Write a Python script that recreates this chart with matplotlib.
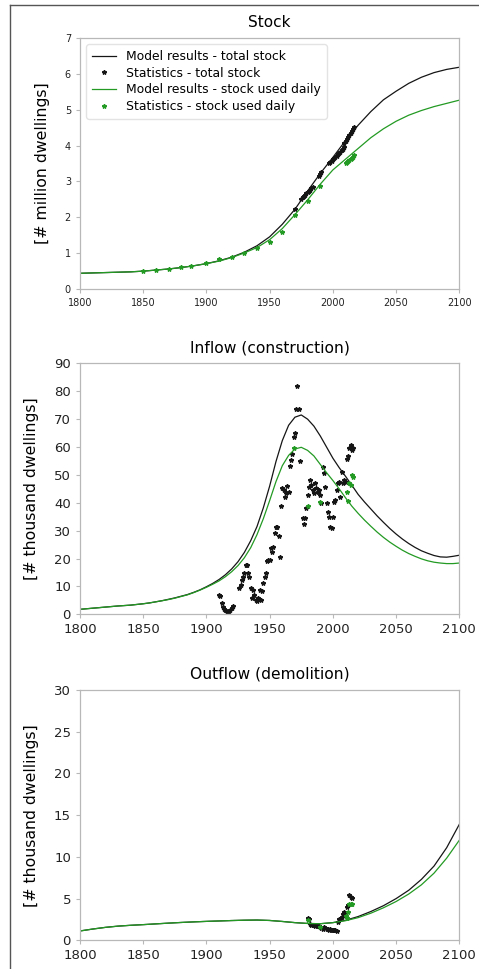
import matplotlib
matplotlib.use("Agg")
import matplotlib.pyplot as plt
from matplotlib.lines import Line2D

# ---------------- data ----------------
# Model curves (stock, million dwellings) every 10 years
years_stock = list(range(1800, 2101, 10))
stock_total_model = [0.43, 0.44, 0.45, 0.46, 0.47, 0.49, 0.52, 0.55, 0.59, 0.64,
                     0.70, 0.78, 0.88, 1.02, 1.20, 1.45, 1.80, 2.22, 2.73, 3.22,
                     3.67, 4.14, 4.57, 4.95, 5.28, 5.52, 5.74, 5.91, 6.04, 6.13, 6.19]
stock_daily_model = [0.43, 0.44, 0.45, 0.46, 0.47, 0.49, 0.52, 0.55, 0.59, 0.64,
                     0.70, 0.77, 0.87, 1.00, 1.15, 1.37, 1.68, 2.07, 2.48, 2.92,
                     3.32, 3.62, 3.92, 4.22, 4.47, 4.68, 4.85, 4.98, 5.09, 5.18, 5.27]

# Statistics - stock
stock_total_years = [1970, 1975, 1976, 1977, 1978, 1979, 1980, 1981, 1982, 1983, 1984,
                     1989, 1990, 1991,
                     1997, 1998, 1999, 2000, 2001, 2002, 2003, 2004, 2005, 2006, 2007, 2008, 2009,
                     2009, 2010, 2011, 2012, 2013, 2014, 2015, 2016, 2017]
stock_total_stats = [2.22, 2.52, 2.56, 2.60, 2.63, 2.67, 2.70, 2.74, 2.77, 2.81, 2.85,
                     3.15, 3.20, 3.26,
                     3.52, 3.55, 3.58, 3.62, 3.65, 3.69, 3.72, 3.76, 3.79, 3.83, 3.87, 3.91, 3.95,
                     4.08, 4.14, 4.19, 4.25, 4.30, 4.36, 4.41, 4.46, 4.51]
stock_daily_years = [1850, 1860, 1870, 1880, 1888, 1900, 1910, 1920, 1930, 1940, 1950,
                     1960, 1970, 1980, 1990,
                     2010, 2011, 2012, 2013, 2014, 2015, 2016, 2017]
stock_daily_stats = [0.49, 0.53, 0.56, 0.61, 0.64, 0.73, 0.83, 0.88, 1.01, 1.14, 1.31,
                     1.59, 2.06, 2.45, 2.88,
                     3.50, 3.53, 3.56, 3.59, 3.62, 3.65, 3.69, 3.73]

# Model curves (inflow, thousand dwellings) every 5 years
years_flow5 = list(range(1800, 2101, 5))
inflow_total_model = [1.8, 2.0, 2.2, 2.4, 2.6, 2.8, 3.0, 3.15, 3.3, 3.55,
                      3.8, 4.1, 4.5, 4.9, 5.4, 5.9, 6.5, 7.1, 7.9, 8.8,
                      9.9, 11.1, 12.5, 14.2, 16.3, 18.9, 22.2, 26.4, 31.5, 38.2,
                      46.0, 54.8, 62.3, 67.8, 70.7, 71.5, 70.0, 67.5, 64.0, 60.0,
                      56.0, 52.6, 49.5, 46.3, 43.0, 40.3, 37.8, 35.3, 33.0, 30.8,
                      28.8, 27.0, 25.4, 24.0, 22.8, 21.9, 21.1, 20.6, 20.5, 20.8, 21.2]
inflow_daily_model = [1.8, 2.0, 2.2, 2.4, 2.6, 2.8, 3.0, 3.15, 3.3, 3.55,
                      3.8, 4.1, 4.5, 4.9, 5.3, 5.8, 6.4, 7.0, 7.8, 8.7,
                      9.7, 10.8, 12.0, 13.5, 15.3, 17.5, 20.3, 23.9, 28.6, 34.3,
                      40.8, 47.6, 53.3, 57.0, 59.3, 59.9, 58.8, 56.8, 53.8, 50.8,
                      48.0, 45.0, 41.8, 38.8, 36.2, 33.8, 31.6, 29.5, 27.6, 25.9,
                      24.4, 23.0, 21.8, 20.8, 19.9, 19.2, 18.7, 18.4, 18.2, 18.2, 18.4]

# Statistics - inflow
inflow_total_years = [1910, 1911, 1912, 1913, 1914, 1915, 1916, 1917, 1918, 1919, 1920, 1921,
                      1926, 1927, 1928, 1929, 1930, 1931, 1932, 1933, 1934,
                      1935, 1936, 1937, 1938, 1939, 1940, 1941, 1942, 1943, 1944,
                      1945, 1946, 1947, 1948, 1949,
                      1950, 1951, 1952, 1953, 1954, 1955, 1956, 1957, 1958, 1959,
                      1960, 1961, 1962, 1963, 1964, 1965, 1966, 1967, 1968, 1969,
                      1970, 1971, 1972, 1973, 1974,
                      1976, 1977, 1978, 1979, 1980, 1981, 1982, 1983, 1984, 1985,
                      1986, 1987, 1988, 1989, 1990, 1991, 1992, 1993, 1994, 1995,
                      1996, 1997, 1998, 1999, 2000, 2001, 2002, 2003, 2004, 2005,
                      2006, 2007, 2008, 2009, 2010, 2011, 2012, 2013, 2014, 2015, 2016]
inflow_total_stats = [6.8, 6.6, 4.0, 2.8, 2.0, 1.4, 1.0, 0.9, 1.1, 1.6, 2.4, 3.0,
                      9.5, 10.5, 12.3, 13.5, 14.7, 17.8, 17.7, 14.7, 13.5,
                      9.3, 5.7, 8.8, 6.9, 5.0, 4.8, 5.7, 8.7, 5.1, 8.4,
                      11.1, 13.5, 14.9, 19.3, 19.5,
                      19.4, 23.7, 22.5, 24.2, 29.0, 31.3, 31.3, 28.0, 20.6, 39.0,
                      45.2, 44.6, 42.2, 43.4, 46.0, 44.0, 53.2, 55.5, 57.5, 63.5,
                      65.0, 73.6, 81.8, 73.8, 55.0,
                      34.4, 32.4, 34.4, 38.0, 42.8, 45.8, 48.2, 46.4, 44.6, 43.4,
                      47.0, 45.2, 44.0, 44.6, 42.8, 40.0, 52.9, 50.6, 45.8, 40.0,
                      36.8, 35.0, 31.4, 30.8, 35.0, 40.4, 41.0, 44.6, 47.0, 47.6,
                      42.2, 51.1, 47.0, 48.2, 47.5, 55.6, 56.8, 59.5, 60.7, 58.9, 59.5]
inflow_daily_years = [1969, 1980, 1990, 2011, 2012, 2013, 2014, 2015, 2016]
inflow_daily_stats = [59.5, 38.8, 40.2, 44.0, 40.8, 47.0, 46.3, 50.0, 49.4]

# Model curves (outflow, thousand dwellings) every 10 years
years_flow10 = list(range(1800, 2101, 10))
outflow_total_model = [1.12, 1.35, 1.55, 1.70, 1.80, 1.88, 1.97, 2.06, 2.14, 2.21,
                       2.27, 2.32, 2.37, 2.41, 2.43, 2.38, 2.26, 2.12, 2.02, 1.99,
                       2.12, 2.40, 2.85, 3.45, 4.15, 5.00, 6.00, 7.30, 8.90, 11.1, 13.9]
outflow_daily_model = [1.12, 1.35, 1.55, 1.70, 1.80, 1.88, 1.97, 2.06, 2.14, 2.21,
                       2.27, 2.32, 2.37, 2.41, 2.43, 2.38, 2.26, 2.12, 2.02, 1.99,
                       2.12, 2.35, 2.72, 3.25, 3.90, 4.65, 5.55, 6.65, 8.05, 9.85, 12.0]

# Statistics - outflow
outflow_total_years = list(range(1980, 2016))
outflow_total_stats = [2.7, 2.5, 1.95, 1.85, 1.8, 1.8, 1.75, 1.8, 1.75, 1.7,
                       1.6, 1.45, 1.4, 1.55, 1.45, 1.35, 1.3, 1.25, 1.3, 1.2,
                       1.25, 1.2, 1.25, 1.15, 2.2, 2.5, 2.6, 2.8, 3.1, 3.4,
                       3.3, 4.0, 4.2, 5.4, 5.2, 5.1]
outflow_daily_years = [1980, 1990, 2010, 2011, 2012, 2013, 2014, 2015]
outflow_daily_stats = [2.45, 1.55, 2.9, 2.7, 3.4, 4.3, 4.4, 4.35]

# ---------------- styling ----------------
plt.rcParams['font.family'] = ['DejaVu Sans']
BLACK = '#151515'
GREEN = '#239a23'
SPINE = '#b8b8b8'
LW = 0.9
MS = 3.2

fig = plt.figure(figsize=(4.79, 9.69), dpi=100)

# outer frame
fig.add_artist(Line2D([10 / 479, 10 / 479], [0, 1 - 5 / 969], transform=fig.transFigure,
                      color='#555555', lw=1.0))
fig.add_artist(Line2D([10 / 479, 1.0], [1 - 5 / 969, 1 - 5 / 969], transform=fig.transFigure,
                      color='#555555', lw=1.0))

left, width = 0.1670, 0.7919
ax1 = fig.add_axes([left, 0.7021, width, 0.2584])
ax2 = fig.add_axes([left, 0.3660, width, 0.2590])
ax3 = fig.add_axes([left, 0.0296, width, 0.2583])


def style(ax, tick_size, label_x):
    for s in ax.spines.values():
        s.set_color(SPINE)
        s.set_linewidth(0.9)
    ax.tick_params(axis='both', colors=SPINE, labelcolor='#222222',
                   labelsize=tick_size, length=3, width=0.8, direction='out')
    ax.set_xlim(1800, 2100)
    ax.set_xticks(range(1800, 2101, 50))
    ax.yaxis.set_label_coords(label_x, 0.5)


# Stock
ax1.plot(years_stock, stock_total_model, color=BLACK, lw=LW, label='Model results - total stock')
ax1.plot(stock_total_years, stock_total_stats, ls='none', marker='*', ms=MS, color=BLACK,
         label='Statistics - total stock')
ax1.plot(years_stock, stock_daily_model, color=GREEN, lw=LW, label='Model results - stock used daily')
ax1.plot(stock_daily_years, stock_daily_stats, ls='none', marker='*', ms=MS, color=GREEN,
         label='Statistics - stock used daily')
ax1.set_ylim(0, 7)
ax1.set_yticks(range(0, 8))
ax1.set_title('Stock', fontsize=11, pad=8)
ax1.set_ylabel('[# million dwellings]', fontsize=11.3)
style(ax1, 7, -0.079)
ax1.legend(loc='upper left', fontsize=8.9, frameon=True, borderaxespad=0.5,
           handlelength=2.0, labelspacing=0.3, borderpad=0.45, edgecolor='#dddddd', fancybox=True)

# Inflow
ax2.plot(years_flow5, inflow_total_model, color=BLACK, lw=LW)
ax2.plot(inflow_total_years, inflow_total_stats, ls='none', marker='*', ms=MS, color=BLACK)
ax2.plot(years_flow5, inflow_daily_model, color=GREEN, lw=LW)
ax2.plot(inflow_daily_years, inflow_daily_stats, ls='none', marker='*', ms=MS, color=GREEN)
ax2.set_ylim(0, 90)
ax2.set_yticks(range(0, 91, 10))
ax2.set_title('Inflow (construction)', fontsize=11.2, pad=8)
ax2.set_ylabel('[# thousand dwellings]', fontsize=11.3)
style(ax2, 9.5, -0.107)

# Outflow
ax3.plot(years_flow10, outflow_total_model, color=BLACK, lw=LW)
ax3.plot(outflow_total_years, outflow_total_stats, ls='none', marker='*', ms=MS, color=BLACK)
ax3.plot(years_flow10, outflow_daily_model, color=GREEN, lw=LW)
ax3.plot(outflow_daily_years, outflow_daily_stats, ls='none', marker='*', ms=MS, color=GREEN)
ax3.set_ylim(0, 30)
ax3.set_yticks(range(0, 31, 5))
ax3.set_title('Outflow (demolition)', fontsize=11.2, pad=8)
ax3.set_ylabel('[# thousand dwellings]', fontsize=11.3)
style(ax3, 9.5, -0.107)

fig.savefig('out.png', dpi=100)
